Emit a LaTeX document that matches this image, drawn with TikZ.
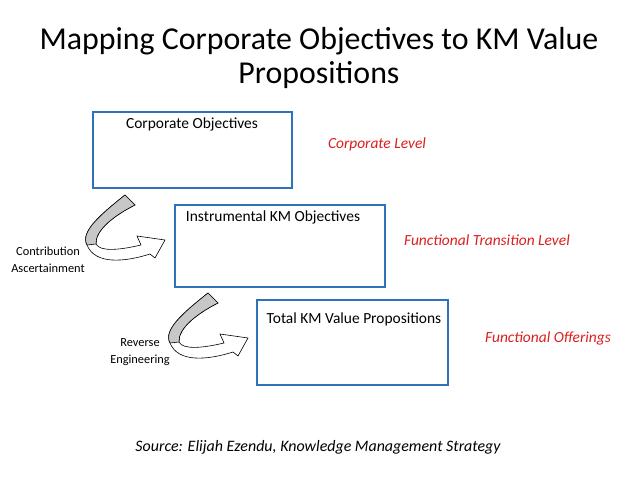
\documentclass[tikz,border=0pt]{standalone}
\usepackage{fontspec}
\setmainfont{Carlito}
\begin{document}
\begin{tikzpicture}[x=1bp,y=-1bp,
  kmbox/.style={draw={rgb,255:red,45;green,115;blue,185},line width=1.3pt},
  lbl/.style={font=\fontsize{15.5}{18}\selectfont,anchor=north,inner sep=0pt},
  red/.style={text={rgb,255:red,220;green,30;blue,30},font=\fontsize{15.5}{18}\selectfont\itshape},
  side/.style={font=\fontsize{12.4}{17}\selectfont,align=center},
  pics/curvarr/.style={code={
    \path[fill=white,draw=black,line width=0.6pt] (125,195) .. controls (100,215) and (80,232) .. (87,245) .. controls (95,265) and (125,262) .. (150,254) -- (155,258) -- (165,240) -- (137,236) -- (141,245) .. controls (120,250) and (100,252) .. (96,244) .. controls (95,230) and (115,215) .. (135,205) -- cycle;
    \path[fill=black!22,draw=black,line width=0.6pt] (125,195) .. controls (100,215) and (80,232) .. (87,245) -- (96,244) .. controls (95,230) and (115,215) .. (135,205) -- cycle;
  }}]
\useasboundingbox (0,0) rectangle (638,479);
\node (t) at (319,58) [align=center,font=\fontsize{32}{35}\selectfont] {Mapping Corporate Objectives to KM Value\\Propositions};
\draw[kmbox] (93,112) rectangle (292,188);
\draw[kmbox] (175,205) rectangle (385,287);
\draw[kmbox] (257,300) rectangle (448,385);
\node[lbl] (b1) at (192,118) {Corporate Objectives};
\node[lbl] (b2) at (273,211) {Instrumental KM Objectives};
\node[lbl] (b3) at (354,313) {Total KM Value Propositions};
\node[red] (r1) at (377,144) {Corporate Level};
\node[red] (r2) at (487,240) {Functional Transition Level};
\node[red] (r3) at (548,338) {Functional Offerings};
\pic (a1) at (0,0) {curvarr};
\pic (a2) at (83,98) {curvarr};
\node[side] (c1) at (48,260) {Contribution\\Ascertainment};
\node[side] (c2) at (140,352) {Reverse\\Engineering};
\node (s) at (318,447) [font=\fontsize{16}{18}\selectfont\itshape] {Source: Elijah Ezendu, Knowledge Management Strategy};
\end{tikzpicture}
\end{document}
